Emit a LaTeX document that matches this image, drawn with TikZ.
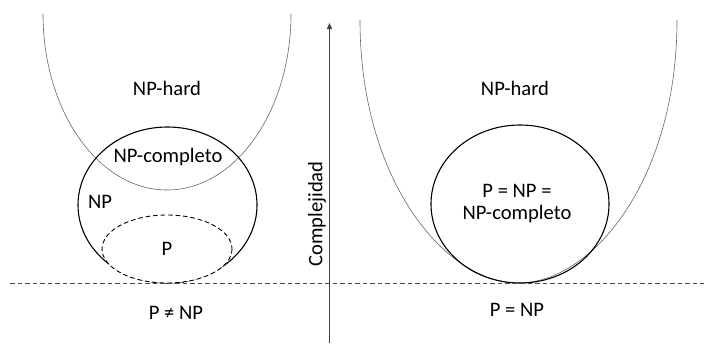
\documentclass[tikz,border=0pt]{standalone}
\usepackage{fontspec}
\setmainfont{Carlito}
\usetikzlibrary{arrows.meta}
\begin{document}
\begin{tikzpicture}[x=1pt,y=-1pt,
  hardcurve/.style={draw=black!60,line width=0.6pt},
  classset/.style={draw=black,line width=1.1pt},
  subset/.style={draw=black,fill=white,line width=0.9pt,dash pattern=on 4.5pt off 3pt},
  boundary/.style={draw=black!70,line width=0.9pt,dash pattern=on 4.5pt off 3pt},
  axisline/.style={draw=black!75,line width=0.9pt,-{Triangle[length=6pt,width=5pt]}},
  lbl/.style={font=\fontsize{20.6}{23}\selectfont,inner sep=0pt,align=center}]
\useasboundingbox (0,0) rectangle (704,343);

% left side: P != NP
\draw[hardcurve] (43,14) arc[start angle=180,end angle=0,x radius=124,y radius=176];
\draw[classset] (167.5,205) ellipse[x radius=89.5,y radius=78];
\draw[subset] (167,249) ellipse[x radius=65,y radius=34];

% right side: P = NP
\draw[hardcurve] (360,20) .. controls (360,180) and (445,283) .. (518.5,283)
                          .. controls (592,283) and (677,180) .. (677,20);
\draw[classset] (520,204) ellipse[x radius=89,y radius=79];

% boundary line
\coordinate (bl) at (10,283);
\coordinate (br) at (704,283);
\draw[boundary] (bl) -- (br);

% complexity axis
\coordinate (ax0) at (329.5,343);
\coordinate (ax1) at (329.5,23);
\draw[axisline] (ax0) -- (ax1);
\node[lbl,rotate=90] (axl) at (317,214) {Complejidad};

% labels
\node[lbl] (hardL) at (167,88) {NP-hard};
\node[lbl] (ncL) at (168,157) {NP-completo};
\node[lbl] (npL) at (100,202) {NP};
\node[lbl] (pL) at (167,249) {P};
\node[lbl] (neqL) at (176,313) {P ≠ NP};

\node[lbl] (hardR) at (515,88) {NP-hard};
\node[lbl] (eqall) at (517,204) {P = NP =\\[-1pt]NP-completo};
\node[lbl] (eqR) at (517,310) {P = NP};
\end{tikzpicture}
\end{document}
